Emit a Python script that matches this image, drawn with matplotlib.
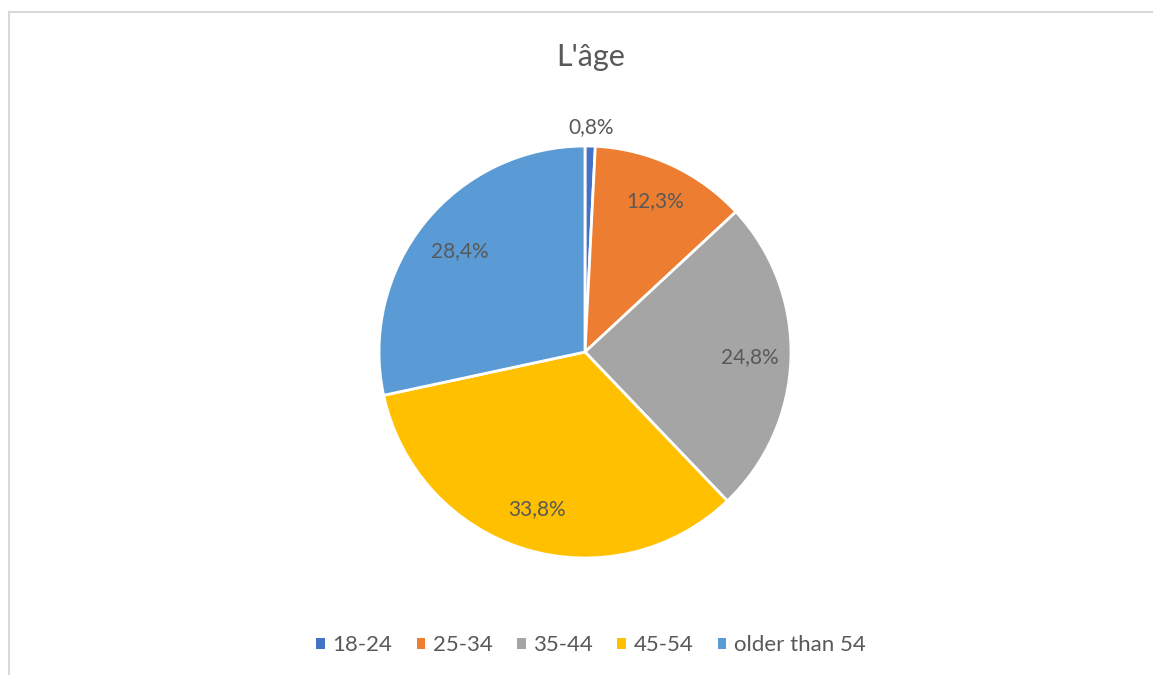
import numpy as np
import matplotlib.pyplot as plt
from matplotlib.lines import Line2D
from matplotlib.patches import Patch

plt.rcParams['font.family'] = ['Lato', 'DejaVu Sans']

# data
categories = ['18-24', '25-34', '35-44', '45-54', 'older than 54']
shares = [0.8, 12.3, 24.8, 33.8, 28.4]
labels = ['0,8%', '12,3%', '24,8%', '33,8%', '28,4%']
colors = ['#4472C4', '#ED7D31', '#A5A5A5', '#FFC000', '#5B9BD5']
label_dist = [1.09, 0.81, 0.80, 0.80, 0.78]

text_color = '#595959'

fig = plt.figure(figsize=(11.53, 6.75), dpi=100)

# chart area border (left and top edges visible)
fig.add_artist(Line2D([8.5 / 1153, 8.5 / 1153], [0, 1 - 12 / 675],
                      color='#D9D9D9', lw=1.5, transform=fig.transFigure))
fig.add_artist(Line2D([8.5 / 1153, 1], [1 - 12 / 675, 1 - 12 / 675],
                      color='#D9D9D9', lw=1.5, transform=fig.transFigure))

cx, cy, r = 585 / 1153, 1 - 352 / 675, 206
ax = fig.add_axes([cx - r / 1153, cy - r / 675, 2 * r / 1153, 2 * r / 675])

wedges, texts = ax.pie(shares, colors=colors, startangle=90, counterclock=False,
                       wedgeprops=dict(edgecolor='white', linewidth=2))
ax.set_aspect('auto')
ax.set_xlim(-1, 1)
ax.set_ylim(-1, 1)

# data labels
total = sum(shares)
cum = np.cumsum([0] + shares)
for i, lab in enumerate(labels):
    mid = (cum[i] + cum[i + 1]) / 2 / total
    ang = np.deg2rad(90 - 360 * mid)
    d = label_dist[i]
    ax.text(d * np.cos(ang), d * np.sin(ang), lab, ha='center', va='center',
            fontsize=15, color=text_color)

fig.text(591 / 1153, 1 - 57 / 675, "L'âge", ha='center', va='center',
         fontsize=22, color=text_color)

handles = [Patch(facecolor=c, edgecolor='none') for c in colors]
fig.legend(handles, categories, loc='center', bbox_to_anchor=(591 / 1153, 1 - 645 / 675),
           ncol=5, frameon=False, fontsize=16, labelcolor=text_color,
           handlelength=0.38, handleheight=0.38, handletextpad=0.35, columnspacing=1.1)

fig.savefig('out.png', dpi=100)
